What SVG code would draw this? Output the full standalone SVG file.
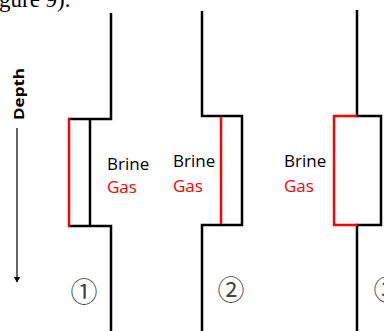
<svg xmlns="http://www.w3.org/2000/svg" width="384" height="331" viewBox="0 0 384 331">
  <style>
    .pipe { fill: none; stroke: #000; stroke-width: 2.5; stroke-linejoin: miter; stroke-linecap: butt; }
    .gas { fill: none; stroke: #ff0000; stroke-width: 2.5; stroke-linejoin: miter; }
    .lbl { font-family: "Open Sans", "Noto Sans", sans-serif; font-size: 17px; }
    .brine { fill: #000; }
    .gastxt { fill: #ff0000; }
    .num { font-family: "Noto Sans CJK JP", "DejaVu Sans", sans-serif; font-size: 27px; fill: #444; text-anchor: middle; }
  </style>
  <defs>
    <marker id="arrow" markerWidth="6" markerHeight="7" refX="5.5" refY="3.5" orient="auto" markerUnits="userSpaceOnUse">
      <path d="M0,0 L6,3.5 L0,7 Z" fill="#000"/>
    </marker>
  </defs>
  <rect width="384" height="331" fill="#fff"/>

  <!-- running text from the page above -->
  <text x="-1" y="6.5" font-family="Liberation Serif, serif" font-size="23" fill="#000">gure 9).</text>

  <!-- depth axis -->
  <g id="depth-axis">
    <text transform="translate(24,120) rotate(-90)" font-family="Open Sans, sans-serif" font-weight="bold" font-size="15" textLength="52" lengthAdjust="spacingAndGlyphs">Depth</text>
    <line x1="17" y1="128" x2="17" y2="282" stroke="#000" stroke-width="1.2" marker-end="url(#arrow)"/>
  </g>

  <g id="connectors">
    <path class="pipe" d="M111,13 V119 H68"/>
    <path class="pipe" d="M68,226 H111 V331"/>
    <path class="pipe" d="M202,11 V116 H242 V225 H202 V331"/>
    <path class="pipe" d="M357,10 V116 H381 V225 H357 V331"/>
  </g>

  <!-- case 1: gas along the outer wall -->
  <g id="case1">
    <line class="gas" x1="69" y1="118" x2="69" y2="227"/>
    <line class="pipe" x1="90" y1="119" x2="90" y2="226"/>
    <text class="lbl brine" x="107" y="170">Brine</text>
    <text class="lbl gastxt" x="107" y="193">Gas</text>
    <text class="num" x="84" y="302">①</text>
  </g>

  <!-- case 2: gas inside the widened section -->
  <g id="case2">
    <line class="gas" x1="221" y1="117" x2="221" y2="224"/>
    <text class="lbl brine" x="173" y="167">Brine</text>
    <text class="lbl gastxt" x="173" y="192">Gas</text>
    <text class="num" x="231" y="300">②</text>
  </g>

  <!-- case 3: gas filling the outer cavity -->
  <g id="case3">
    <path class="gas" d="M357,116 H334 V225 H357"/>
    <text class="lbl brine" x="284" y="167">Brine</text>
    <text class="lbl gastxt" x="284" y="192">Gas</text>
    <text class="num" x="387" y="300">③</text>
  </g>
</svg>
